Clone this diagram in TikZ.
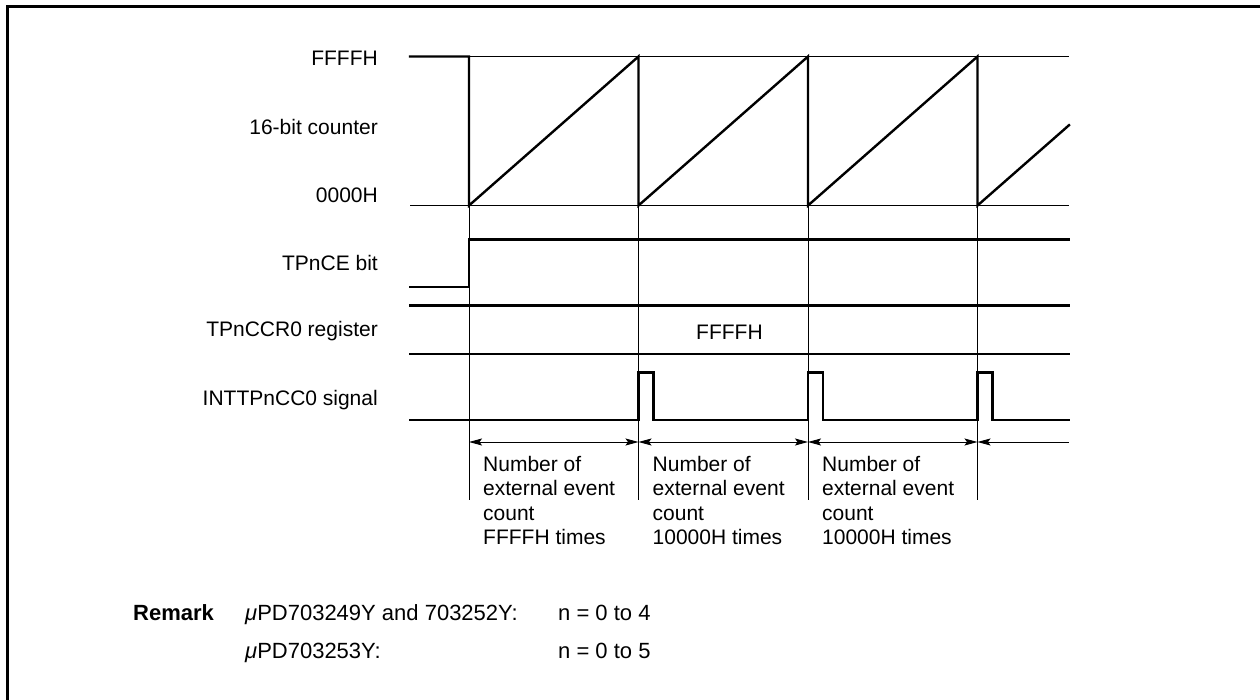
\documentclass[tikz,border=0pt]{standalone}
\usepackage{fontspec}
\setmainfont{Liberation Sans}
\usetikzlibrary{arrows.meta}
\tikzset{
  sig/.style={line width=2.4pt, line join=miter, line cap=rect},
  thinl/.style={line width=0.9pt},
  lbl/.style={anchor=base east, inner sep=0pt, font=\fontsize{21}{24.5}\selectfont},
  cnt/.style={anchor=north west, inner sep=0pt, align=left, font=\fontsize{21}{24.5}\selectfont},
  txt/.style={anchor=base west, inner sep=0pt, font=\fontsize{21}{24.5}\selectfont},
  rtxt/.style={anchor=base west, inner sep=0pt, font=\fontsize{22}{26}\selectfont},
  dim/.style={thinl, {Stealth[length=13pt,width=7pt,inset=2.5pt]}-{Stealth[length=13pt,width=7pt,inset=2.5pt]}},
  diml/.style={thinl, {Stealth[length=13pt,width=7pt,inset=2.5pt]}-},
}
\begin{document}
\begin{tikzpicture}[x=1pt,y=-1pt]
\useasboundingbox (0,0) rectangle (1260,700);
% frame (top and left visible)
\draw[line width=3pt] (7.5,700) -- (7.5,6.5) -- (1260,6.5);

% time coordinates
\def\ta{469}\def\tb{638.5}\def\tc{808}\def\td{977.5}
\def\pw{15}

% labels
\node[lbl] (lF) at (378,66) {FFFFH};
\node[lbl] (lC) at (378,135) {16-bit counter};
\node[lbl] (l0) at (378,203) {0000H};
\node[lbl] (lCE) at (378,271) {TPnCE bit};
\node[lbl] (lR) at (378,337) {TPnCCR0 register};
\node[lbl] (lI) at (378,405) {INTTPnCC0 signal};

% thin reference lines
\draw[thinl] (\ta,56.5) -- (1069,56.5);
\draw[thinl] (410,205.5) -- (1069,205.5);
% vertical timing lines
\foreach \t in {\ta,\tb,\tc,\td} \draw[thinl] (\t,205.5) -- (\t,500);

% 16-bit counter
\draw[sig] (410,56.5) -- (\ta,56.5) -- (\ta,205.5)
  -- (\tb,56.5) -- (\tb,205.5)
  -- (\tc,56.5) -- (\tc,205.5)
  -- (\td,56.5) -- (\td,205.5)
  -- (1069,125.2);

% TPnCE bit
\draw[sig] (410,287) -- (\ta,287) -- (\ta,239.5) -- (1069,239.5);

% TPnCCR0 register
\draw[sig] (410,305.5) -- (1069,305.5);
\draw[sig] (410,354) -- (1069,354);
\node[txt] (rv) at (696,339) {FFFFH};

% INTTPnCC0 signal
\draw[sig] (410,420) -- (\tb,420) -- (\tb,372.5) -- ({\tb+\pw},372.5) -- ({\tb+\pw},420)
  -- (\tc,420) -- (\tc,372.5) -- ({\tc+\pw},372.5) -- ({\tc+\pw},420)
  -- (\td,420) -- (\td,372.5) -- ({\td+\pw},372.5) -- ({\td+\pw},420) -- (1069,420);

% dimension arrows
\coordinate (a1) at (\ta,442);
\coordinate (a2) at (\tb,442);
\coordinate (a3) at (\tc,442);
\coordinate (a4) at (\td,442);
\coordinate (a5) at (1069,442);
\draw[dim] (a1) -- (a2);
\draw[dim] (a2) -- (a3);
\draw[dim] (a3) -- (a4);
\draw[diml] (a4) -- (a5);

\node[cnt] (n1) at (483,456) {Number of\\external event\\count\\FFFFH times};
\node[cnt] (n2) at (652.5,456) {Number of\\external event\\count\\10000H times};
\node[cnt] (n3) at (822,456) {Number of\\external event\\count\\10000H times};

% remark
\node[rtxt, font=\fontsize{22}{26}\selectfont\bfseries] (rem) at (133,620) {Remark};
\node[rtxt] (r1) at (245,620) {{\itshape μ}PD703249Y and 703252Y:};
\node[rtxt] (r2) at (245,658) {{\itshape μ}PD703253Y:};
\node[rtxt] (r3) at (558,620) {n = 0 to 4};
\node[rtxt] (r4) at (558,658) {n = 0 to 5};
\end{tikzpicture}
\end{document}
